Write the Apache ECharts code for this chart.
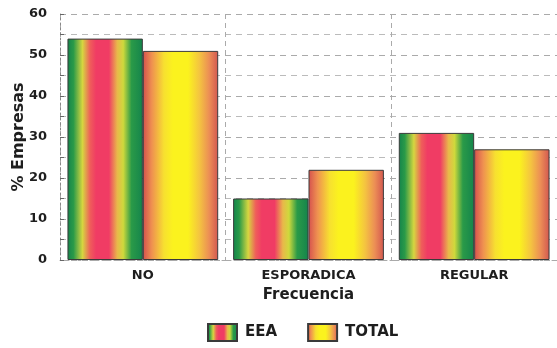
<!DOCTYPE html>
<html>
<head>
<meta charset="utf-8">
<script src="https://cdn.jsdelivr.net/npm/echarts@6/dist/echarts.min.js"></script>
<style>
  html, body { margin: 0; padding: 0; background: #fff; }
  #chart { width: 557px; height: 348px; }
</style>
</head>
<body>
<div id="chart"></div>
<script>
// Frequency categories and the share of firms (%) in each group
const categories = ['NO', 'ESPORADICA', 'REGULAR'];
const eeaValues = [54, 15, 31];
const totalValues = [51, 22, 27];
const yTicks = [0, 10, 20, 30, 40, 50, 60];

const font = 'DejaVu Sans, Verdana, sans-serif';
const ink = '#1e1e1e';

// Banded fills: green/red stripes for EEA, salmon/yellow for TOTAL
const eeaFill = new echarts.graphic.LinearGradient(0, 0, 1, 0, [
  { offset: 0.0, color: '#14844c' },
  { offset: 0.08, color: '#2a9a48' },
  { offset: 0.2, color: '#d6d640' },
  { offset: 0.3, color: '#ef5e5a' },
  { offset: 0.38, color: '#f03c64' },
  { offset: 0.55, color: '#f03c64' },
  { offset: 0.66, color: '#e9b84a' },
  { offset: 0.74, color: '#cfd93c' },
  { offset: 0.85, color: '#2a9a48' },
  { offset: 1.0, color: '#14844c' }
]);
const totalFill = new echarts.graphic.LinearGradient(0, 0, 1, 0, [
  { offset: 0.0, color: '#d5504e' },
  { offset: 0.12, color: '#ef9150' },
  { offset: 0.28, color: '#f7e030' },
  { offset: 0.4, color: '#fbf21e' },
  { offset: 0.6, color: '#fbf21e' },
  { offset: 0.75, color: '#f4c440' },
  { offset: 0.88, color: '#ec8e55' },
  { offset: 1.0, color: '#d25650' }
]);

const chart = echarts.init(document.getElementById('chart'), null, { renderer: 'canvas' });

chart.setOption({
  animation: false,
  backgroundColor: '#fff',
  grid: { left: 60, right: 0, top: 14, bottom: 88, outerBoundsMode: 'none', containLabel: false },
  legend: {
    data: ['EEA', 'TOTAL'],
    left: 207,
    top: 323,
    padding: 0,
    itemWidth: 29,
    itemHeight: 17,
    itemGap: 30,
    icon: 'rect',
    textStyle: { fontFamily: font, fontWeight: 'bold', fontSize: 15, color: ink, padding: [0, 0, 0, 3] }
  },
  xAxis: {
    type: 'category',
    data: categories,
    name: 'Frecuencia',
    nameLocation: 'middle',
    nameGap: 28,
    nameMoveOverlap: false,
    nameTextStyle: { fontFamily: font, fontWeight: 'bold', fontSize: 15, color: ink },
    axisLine: { show: true, lineStyle: { color: '#aaa', type: [3, 3] } },
    axisTick: { show: false },
    axisLabel: { fontFamily: font, fontWeight: 'bold', fontSize: 13, color: ink, margin: 9 },
    splitLine: { show: true, lineStyle: { color: '#aaa', type: [5, 4], width: 1 } }
  },
  yAxis: {
    type: 'value',
    min: 0,
    max: 60,
    interval: 10,
    name: '% Empresas',
    nameLocation: 'middle',
    nameGap: 33,
    nameMoveOverlap: false,
    nameRotate: 90,
    nameTextStyle: { fontFamily: font, fontWeight: 'bold', fontSize: 16, color: ink },
    axisLine: { show: true, lineStyle: { color: '#888', type: [2, 3] } },
    axisTick: { show: true, length: 4, inside: true, lineStyle: { color: '#666' } },
    minorTick: { show: true, splitNumber: 2, length: 4, lineStyle: { color: '#666' } },
    axisLabel: {
      fontFamily: font, fontWeight: 'bold', fontSize: 13, color: ink, margin: 13,
      formatter: v => (yTicks.includes(v) ? String(v) : '')
    },
    splitLine: { show: true, lineStyle: { color: '#aaa', type: [6, 5], width: 1 } },
    minorSplitLine: { show: true, lineStyle: { color: '#bbb', type: [6, 5], width: 1 } }
  },
  series: [
    {
      name: 'EEA',
      type: 'bar',
      data: eeaValues,
      barGap: '0%',
      barCategoryGap: '9%',
      itemStyle: { color: eeaFill, borderColor: '#3a3a3a', borderWidth: 1 }
    },
    {
      name: 'TOTAL',
      type: 'bar',
      data: totalValues,
      itemStyle: { color: totalFill, borderColor: '#3a3a3a', borderWidth: 1 }
    }
  ]
});
</script>
</body>
</html>
